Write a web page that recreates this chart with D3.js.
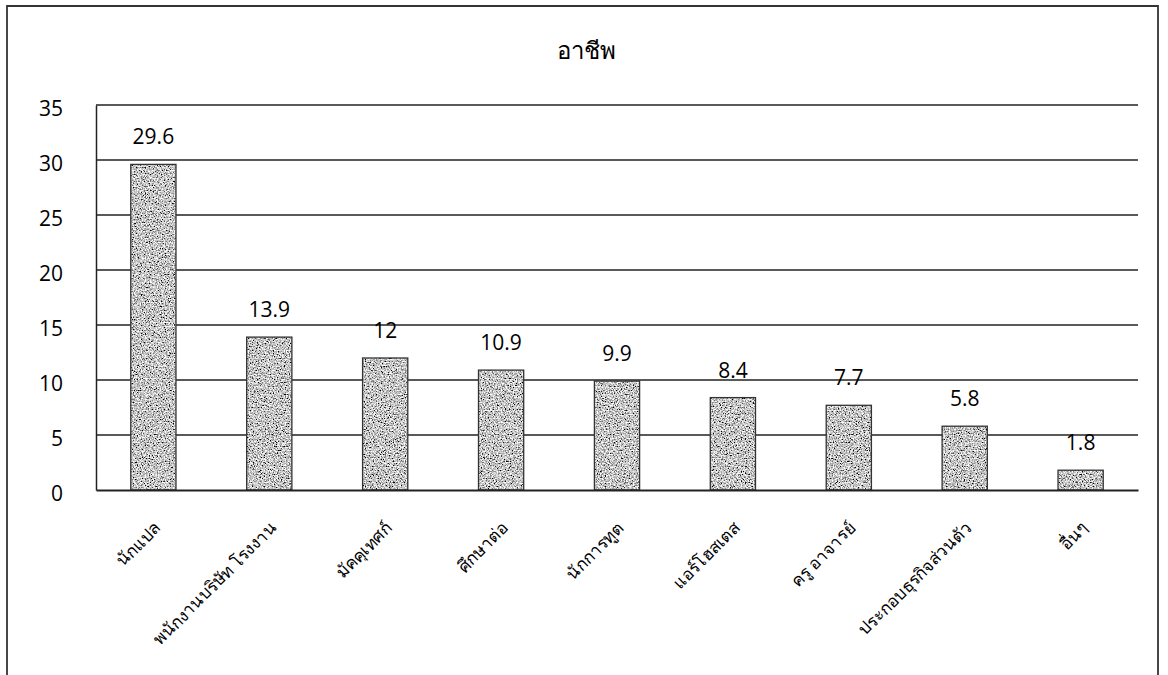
<!DOCTYPE html>
<html>
<head>
<meta charset="utf-8">
<script src="https://cdn.jsdelivr.net/npm/d3@7"></script>
<style>
  html, body { margin: 0; padding: 0; background: #fff; }
  svg { display: block; }
  text { font-family: "Open Sans", "Noto Sans", "DejaVu Sans", sans-serif; font-weight: 400; fill: #000; }
</style>
</head>
<body>
<svg id="chart" width="1168" height="675"></svg>
<script>
// Occupation shares (%)
const categories = [
  "นักแปล",
  "พนักงานบริษัท โรงงาน",
  "มัคคุเทศก์",
  "ศึกษาต่อ",
  "นักการทูต",
  "แอร์โฮสเตส",
  "ครู อาจารย์",
  "ประกอบธุรกิจส่วนตัว",
  "อื่นๆ"
];
const values = [29.6, 13.9, 12, 10.9, 9.9, 8.4, 7.7, 5.8, 1.8];
const yTicks = [0, 5, 10, 15, 20, 25, 30, 35];
const title = "อาชีพ";

const FONT = '"Open Sans", "Noto Sans", "DejaVu Sans", sans-serif';

const svg = d3.select("#chart");
const W = 1168, H = 675;
const margin = { top: 105, right: 30, bottom: 185, left: 96 };
const plotW = W - margin.left - margin.right;
const plotH = H - margin.top - margin.bottom;

// Speckled grey texture for the bars
const defs = svg.append("defs");
const f = defs.append("filter").attr("id", "grain")
  .attr("x", 0).attr("y", 0).attr("width", 1).attr("height", 1);
f.append("feTurbulence").attr("type", "fractalNoise")
  .attr("baseFrequency", 0.75).attr("numOctaves", 3).attr("seed", 7).attr("result", "noise");
f.append("feColorMatrix").attr("in", "noise").attr("type", "matrix")
  .attr("values", "2.4 0 0 0 -0.64  2.4 0 0 0 -0.64  2.4 0 0 0 -0.64  0 0 0 0 1")
  .attr("result", "grey");
f.append("feComposite").attr("in", "grey").attr("in2", "SourceGraphic").attr("operator", "in");

// Outer frame
svg.append("path")
  .attr("d", `M7,${H} L7,6 L1158,6 L1158,${H}`)
  .attr("fill", "none").attr("stroke", "#333").attr("stroke-width", 1.8);

svg.append("text")
  .attr("x", 586).attr("y", 59)
  .attr("text-anchor", "middle")
  .attr("font-size", 24)
  .style("font-weight", 300)
  .text(title);

const g = svg.append("g").attr("transform", `translate(${margin.left},${margin.top})`);

const x = d3.scaleBand().domain(categories).range([0, plotW]).paddingInner(0.61).paddingOuter(0.3);
const y = d3.scaleLinear().domain([0, 35]).range([plotH, 0]);

// Gridlines
g.append("g")
  .selectAll("line").data(yTicks.filter(d => d > 0)).join("line")
  .attr("x1", 0).attr("x2", plotW)
  .attr("y1", d => y(d)).attr("y2", d => y(d))
  .attr("stroke", "#222").attr("stroke-width", 1.4);

// Y axis
const yAxis = g.append("g").call(d3.axisLeft(y).tickValues(yTicks).tickSize(0).tickPadding(33));
yAxis.attr("font-family", null).attr("font-size", null);
yAxis.select(".domain").attr("stroke", "#222").attr("stroke-width", 1.5);
yAxis.selectAll("text").attr("font-size", 21).attr("dy", "0.5em")
  .style("font-family", FONT).style("font-weight", 400).style("fill", "#000");

// Bars: textured fill, then outline
const bars = g.append("g");
bars.selectAll("rect.fill").data(values).join("rect")
  .attr("class", "fill")
  .attr("x", (d, i) => x(categories[i]))
  .attr("y", d => y(d))
  .attr("width", x.bandwidth())
  .attr("height", d => plotH - y(d))
  .attr("fill", "#999")
  .attr("filter", "url(#grain)");
bars.selectAll("rect.edge").data(values).join("rect")
  .attr("class", "edge")
  .attr("x", (d, i) => x(categories[i]))
  .attr("y", d => y(d))
  .attr("width", x.bandwidth())
  .attr("height", d => plotH - y(d))
  .attr("fill", "none")
  .attr("stroke", "#333").attr("stroke-width", 1.3);

// Value labels
g.append("g").selectAll("text").data(values).join("text")
  .attr("x", (d, i) => x(categories[i]) + x.bandwidth() / 2)
  .attr("y", d => y(d) - 20)
  .attr("text-anchor", "middle")
  .attr("font-size", 21)
  .text(d => d);

// X axis
const xAxis = g.append("g").attr("transform", `translate(0,${plotH})`)
  .call(d3.axisBottom(x).tickSize(0).tickPadding(0));
xAxis.attr("font-family", null).attr("font-size", null);
xAxis.select(".domain").attr("stroke", "#222").attr("stroke-width", 2);
xAxis.selectAll("text")
  .attr("font-size", 17)
  .attr("text-anchor", "end")
  .attr("dy", 0)
  .attr("transform", "translate(8,39) rotate(-45)")
  .style("font-family", FONT).style("font-weight", 300).style("fill", "#000");
</script>
</body>
</html>
